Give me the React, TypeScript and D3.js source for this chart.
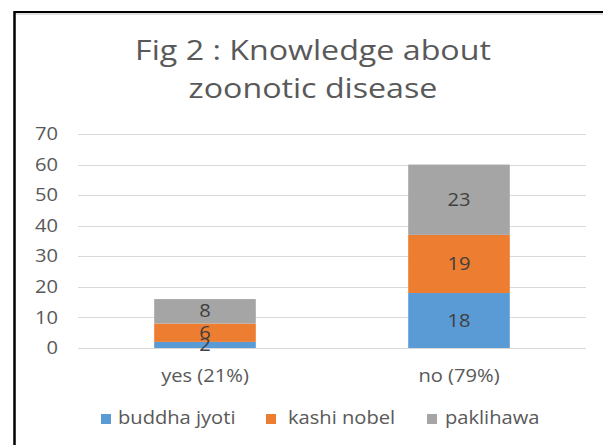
import { useEffect, useRef } from "react";
import * as d3 from "d3";

const categories = ["yes (21%)", "no (79%)"];
const seriesNames = ["buddha jyoti", "kashi nobel", "paklihawa"];
const seriesColors = ["#5b9bd5", "#ed7d31", "#a5a5a5"];
const buddhaJyoti = [2, 18];
const kashiNobel = [6, 19];
const paklihawa = [8, 23];
const yTicks = [0, 10, 20, 30, 40, 50, 60, 70];

export default function App() {
  const svgRef = useRef<SVGSVGElement>(null);

  useEffect(() => {
    if (!svgRef.current) return;
    const svg = d3.select(svgRef.current);
    svg.selectAll("*").remove();

    const width = 603;
    const height = 445;
    const margin = { top: 134, right: 17, bottom: 97, left: 78 };
    const font = "'Open Sans', sans-serif";
    const fs = 17.5;
    const sx = 1.15; // the source picture is a bit wider than tall

    // text helper, stretched horizontally around its anchor
    const label = (
      parent: d3.Selection<any, unknown, null, undefined>,
      x: number,
      y: number,
      txt: string | number,
      anchor: string,
      size: number,
      color: string
    ) =>
      parent.append("text")
        .attr("transform", `translate(${x},${y}) scale(${sx},1)`)
        .attr("dy", "0.35em").attr("text-anchor", anchor)
        .attr("font-family", font).attr("font-size", size)
        .attr("fill", color).text(txt);

    svg.append("rect").attr("width", width).attr("height", height).attr("fill", "#fff");

    // frame (only top and left edges show)
    svg.append("line").attr("x1", 14).attr("x2", width).attr("y1", 14).attr("y2", 14)
      .attr("stroke", "#e0e0e0").attr("stroke-width", 2);
    svg.append("line").attr("x1", 14).attr("x2", width).attr("y1", 12).attr("y2", 12)
      .attr("stroke", "#000").attr("stroke-width", 2);
    svg.append("line").attr("x1", 14.5).attr("x2", 14.5).attr("y1", 11).attr("y2", height)
      .attr("stroke", "#000").attr("stroke-width", 2.5);

    const table = categories.map((c, i) => ({
      cat: c,
      "buddha jyoti": buddhaJyoti[i],
      "kashi nobel": kashiNobel[i],
      paklihawa: paklihawa[i],
    }));
    const stacked = d3.stack<any>().keys(seriesNames)(table);

    const x = d3.scaleBand().domain(categories)
      .range([margin.left, width - margin.right]).paddingInner(0.6).paddingOuter(0.3);
    const y = d3.scaleLinear().domain([0, 70]).range([height - margin.bottom, margin.top]);

    const grid = svg.append("g");
    yTicks.forEach((t) => {
      grid.append("line")
        .attr("x1", margin.left).attr("x2", width - margin.right)
        .attr("y1", Math.round(y(t)) + 0.5).attr("y2", Math.round(y(t)) + 0.5)
        .attr("stroke", "#d9d9d9").attr("stroke-width", 1);
      label(grid, 58, y(t), t, "end", fs, "#595959");
    });

    stacked.forEach((s, si) => {
      const g = svg.append("g");
      s.forEach((d, i) => {
        const cat = categories[i];
        g.append("rect")
          .attr("x", x(cat)!).attr("width", x.bandwidth())
          .attr("y", y(d[1])).attr("height", y(d[0]) - y(d[1]))
          .attr("fill", seriesColors[si]);
      });
    });
    stacked.forEach((s) => {
      s.forEach((d, i) => {
        const cat = categories[i];
        label(svg, x(cat)! + x.bandwidth() / 2, (y(d[0]) + y(d[1])) / 2,
          d[1] - d[0], "middle", fs, "#404040");
      });
    });

    categories.forEach((c) => {
      label(svg, x(c)! + x.bandwidth() / 2, 376, c, "middle", fs, "#595959");
    });

    // legend
    const legendX = [101, 266, 427];
    const legendTextX = [118, 288, 445];
    seriesNames.forEach((n, i) => {
      svg.append("rect").attr("x", legendX[i]).attr("y", 414).attr("width", 10).attr("height", 10)
        .attr("fill", seriesColors[i]);
      label(svg, legendTextX[i], 418, n, "start", fs, "#595959");
    });

    // title
    label(svg, 313, 50, "Fig 2 : Knowledge about", "middle", 28, "#595959");
    label(svg, 313, 88, "zoonotic disease", "middle", 28, "#595959");
  }, []);

  return (
    <div style={{ position: "fixed", left: 0, top: 0 }}>
      <svg ref={svgRef} width={603} height={445} style={{ display: "block" }} />
    </div>
  );
}
